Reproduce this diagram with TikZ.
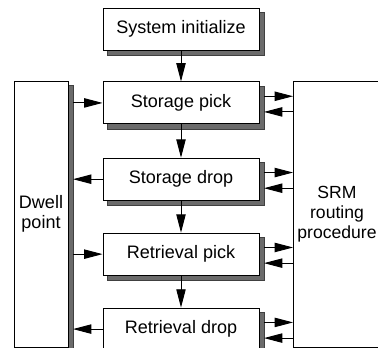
\documentclass[tikz,border=0pt]{standalone}
\usepackage{fontspec}
\setmainfont{Liberation Sans}
\usetikzlibrary{positioning,arrows.meta,backgrounds}

\begin{document}
\begin{tikzpicture}[x=0.03cm,y=0.03cm,
    stepbox/.style={draw,fill=white,line width=0.8pt,minimum width=4.68cm,minimum height=1.26cm},
    tallbox/.style={draw,fill=white,line width=0.8pt,minimum height=7.98cm,align=center},
    shade/.style={fill=black!58,draw=black!75,line width=0.4pt},
    sh/.style={shift={(1.35mm,-1.35mm)}},
    arr/.style={-{Triangle[length=5.5mm,width=2.8mm]},line width=0.8pt},
    font=\fontsize{15.4}{17}\selectfont]
    \useasboundingbox (0,0) rectangle (378,348);
    \clip (0,0) rectangle (378,348);

    % main column
    \node[stepbox] (sys) at (181,319) {System initialize};
    \node[stepbox] (sp) [below=0.93cm of sys] {Storage pick};
    \node[stepbox] (sd) [below=1cm of sp] {Storage drop};
    \node[stepbox] (rp) [below=0.96cm of sd] {Retrieval pick};
    \node[stepbox] (rd) [below=0.96cm of rp] {Retrieval drop};

    % side blocks
    \node[tallbox,minimum width=1.62cm] (dwell) at (41,134) {Dwell\\point};
    \node[tallbox,minimum width=2.58cm,font=\fontsize{15}{17}\selectfont] (srm) at (337,134) {SRM\\routing\\procedure};

    % shadows
    \begin{scope}[on background layer]
        \clip (0,0) rectangle (378,348);
        \fill[shade] ([sh]sys.south west) rectangle ([sh]sys.north east);
        \fill[shade] ([sh]sp.south west) rectangle ([sh]sp.north east);
        \fill[shade] ([sh]sd.south west) rectangle ([sh]sd.north east);
        \fill[shade] ([sh]rp.south west) rectangle ([sh]rp.north east);
        \fill[shade] ([sh]rd.south west) rectangle ([sh]rd.north east);
        \fill[shade] ([sh]dwell.south west) rectangle ([sh]dwell.north east);
    \end{scope}

    \draw[arr] (sys) -- (sp);
    \draw[arr] (sp) -- (sd);
    \draw[arr] (sd) -- (rp);
    \draw[arr] (rp) -- (rd);

    \draw[arr] ([xshift=1.35mm]dwell.east |- sp.west) -- (sp.west);
    \draw[arr] (sd.west) -- ([xshift=1.35mm]dwell.east |- sd.west);
    \draw[arr] ([xshift=1.35mm]dwell.east |- rp.west) -- (rp.west);
    \draw[arr] (rd.west) -- ([xshift=1.35mm]dwell.east |- rd.west);

    \draw[arr] ([xshift=1.35mm,yshift=2mm]sp.east) -- ([yshift=2mm]sp.east -| srm.west);
    \draw[arr] ([yshift=-2.7mm]sp.east -| srm.west) -- ([xshift=1.35mm,yshift=-2.7mm]sp.east);
    \draw[arr] ([xshift=1.35mm,yshift=2mm]sd.east) -- ([yshift=2mm]sd.east -| srm.west);
    \draw[arr] ([yshift=-2.7mm]sd.east -| srm.west) -- ([xshift=1.35mm,yshift=-2.7mm]sd.east);
    \draw[arr] ([xshift=1.35mm,yshift=2mm]rp.east) -- ([yshift=2mm]rp.east -| srm.west);
    \draw[arr] ([yshift=-2.7mm]rp.east -| srm.west) -- ([xshift=1.35mm,yshift=-2.7mm]rp.east);
    \draw[arr] ([xshift=1.35mm,yshift=2mm]rd.east) -- ([yshift=2mm]rd.east -| srm.west);
    \draw[arr] ([yshift=-2.7mm]rd.east -| srm.west) -- ([xshift=1.35mm,yshift=-2.7mm]rd.east);
\end{tikzpicture}
\end{document}
